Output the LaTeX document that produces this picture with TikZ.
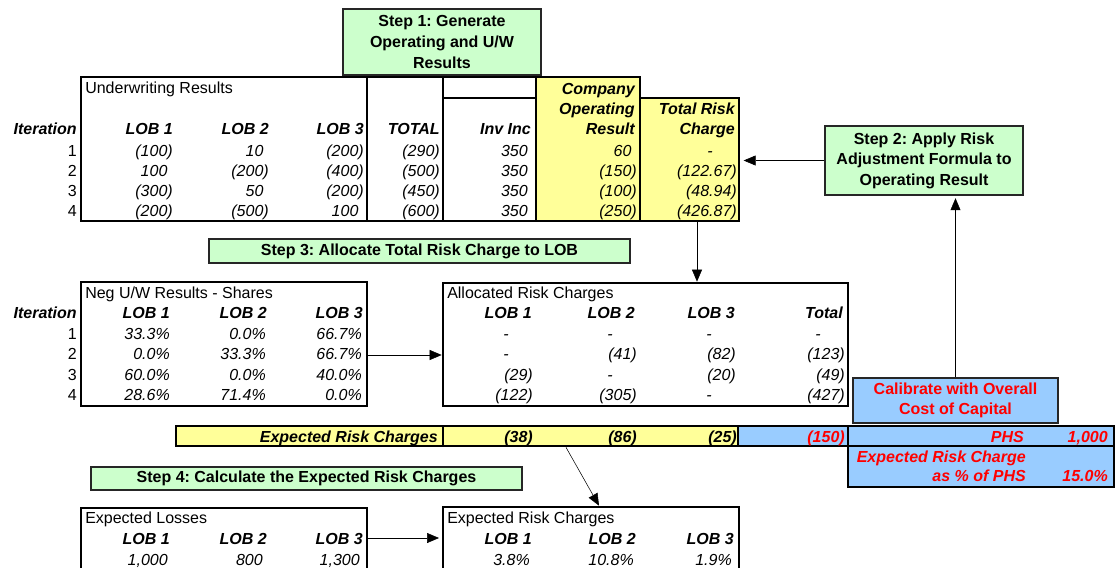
\documentclass[tikz,border=0pt]{standalone}
\usepackage{fontspec}
\setmainfont{Liberation Sans}
\usetikzlibrary{fit, calc, arrows.meta}
\frenchspacing

\definecolor{stepgreen}{HTML}{CCFFCC}
\definecolor{resyellow}{HTML}{FFFF99}
\definecolor{calblue}{HTML}{99CCFF}
\newcommand{\cellsize}{\fontsize{12}{14}\selectfont}
\newcommand{\rp}{\phantom{)}}
\newcommand{\dsh}{-\kern18pt}

\begin{document}
\begin{tikzpicture}[x=0.75pt, y=-0.75pt,
    tabframe/.style={draw, line width=2pt, inner sep=0pt},
    stepbox/.style={draw=black!85, line width=0.8pt, fill=stepgreen,
      inner sep=0pt, align=center, font=\fontsize{12}{15.4}\selectfont\bfseries},
    cellval/.style={anchor=base east, inner sep=0pt, font=\cellsize\itshape},
    cellhead/.style={anchor=base east, inner sep=0pt, font=\cellsize\bfseries\itshape},
    rownum/.style={anchor=base east, inner sep=0pt, font=\cellsize},
    tabtitle/.style={anchor=base west, inner sep=0pt, font=\cellsize},
    >={Triangle[length=9pt,width=7.5pt]}]
  \useasboundingbox (0,0) rectangle (1115,568);
  \clip (0,0) rectangle (1115,568);

  % step boxes
  \node[stepbox, minimum width=198*0.75pt, minimum height=66*0.75pt] (step1) at (442,42)
    {Step 1: Generate\\Operating and U/W\\Results};
  \node[stepbox, minimum width=198*0.75pt, minimum height=69*0.75pt] (step2) at (924,160.5)
    {Step 2: Apply Risk\\Adjustment Formula to\\Operating Result};
  \node[stepbox, minimum width=421*0.75pt, minimum height=24*0.75pt] (step3) at (419.5,251)
    {Step 3: Allocate Total Risk Charge to LOB};
  \node[stepbox, minimum width=431*0.75pt, minimum height=23*0.75pt] (step4) at (306.5,478.5)
    {Step 4: Calculate the Expected Risk Charges};
  \node[stepbox, fill=calblue, text=red, minimum width=205*0.75pt, minimum height=45*0.75pt] (calib) at (955.5,400.5)
    {Calibrate with Overall\\Cost of Capital};

  % underwriting results
  \node[tabframe, fit={(81,77) (367,221)}] (uwres) {};
  \node[tabframe, fit={(367,77) (443,221)}] (uwtot) {};
  \node[tabframe, fit={(443,77) (536,98)}] (invtop) {};
  \node[tabframe, fit={(443,98) (536,221)}] (invinc) {};
  \node[tabframe, fill=resyellow, fit={(536,77) (640,221)}] (opres) {};
  \node[tabframe, fill=resyellow, fit={(640,98) (739,221)}] (riskchg) {};

  \node[tabtitle] (uwtitle) at (85,93) {Underwriting Results};
  \node[cellhead] (uwit) at (77,134) {Iteration};
  \foreach \h/\x [count=\c] in {LOB 1/173, LOB 2/269, LOB 3/364, TOTAL/440, Inv Inc/531, Result/635, Charge/735}
    \node[cellhead] (uwh\c) at (\x,134) {\h};
  \node[cellhead] (oph1) at (635,94) {Company};
  \node[cellhead] (oph2) at (635,114) {Operating};
  \node[cellhead] (rch1) at (735,114) {Total Risk};
  \foreach \row [count=\r] in {{(100),10\rp,(200),(290),350,60\rp,\dsh},
                               {100\rp,(200),(400),(500),350,(150),(122.67)},
                               {(300),50\rp,(200),(450),350,(100),(48.94)},
                               {(200),(500),100\rp,(600),350,(250),(426.87)}} {
    \node[rownum] (uwn\r) at (77,136+20*\r) {\r};
    \foreach \v [count=\c] in \row {
      \pgfmathsetmacro{\cx}{{173,269,364,440,528,637,737}[\c-1]}
      \node[cellval] (uw\r-\c) at (\cx,136+20*\r) {\v};
    }
  }

  % negative u/w shares
  \node[tabframe, fit={(81,282) (367,406)}] (negtab) {};
  \node[tabtitle] (negtitle) at (85,298) {Neg U/W Results - Shares};
  \node[cellhead] (negit) at (77,318) {Iteration};
  \foreach \h/\x [count=\c] in {LOB 1/170, LOB 2/267, LOB 3/363}
    \node[cellhead] (negh\c) at (\x,318) {\h};
  \foreach \row [count=\r] in {{33.3\%,0.0\%,66.7\%},
                               {0.0\%,33.3\%,66.7\%},
                               {60.0\%,0.0\%,40.0\%},
                               {28.6\%,71.4\%,0.0\%}} {
    \node[rownum] (negn\r) at (77,319+20.4*\r) {\r};
    \foreach \v [count=\c] in \row {
      \pgfmathsetmacro{\cx}{{170,266,362}[\c-1]}
      \node[cellval] (neg\r-\c) at (\cx,319+20.4*\r) {\v};
    }
  }

  % allocated charges
  \node[tabframe, fit={(443,283) (848,406)}] (alloctab) {};
  \node[tabtitle] (alloctitle) at (447,298) {Allocated Risk Charges};
  \foreach \h/\x [count=\c] in {LOB 1/532, LOB 2/635, LOB 3/735, Total/843}
    \node[cellhead] (alloch\c) at (\x,318) {\h};
  \foreach \row [count=\r] in {{\dsh,\dsh,\dsh,\dsh},
                               {\dsh,(41),(82),(123)},
                               {(29),\dsh,(20),(49)},
                               {(122),(305),\dsh,(427)}} {
    \foreach \v [count=\c] in \row {
      \pgfmathsetmacro{\cx}{{533,637,736,845}[\c-1]}
      \node[cellval] (alloc\r-\c) at (\cx,319+20.4*\r) {\v};
    }
  }

  % expected risk charge bar
  \node[tabframe, fill=resyellow, fit={(176,426) (443,446)}] (barlbl) {};
  \node[tabframe, fill=resyellow, fit={(443,426) (738,446)}] (barlob) {};
  \node[tabframe, fill=calblue, fit={(738,426) (848,446)}] (bartot) {};
  \node[tabframe, fill=calblue, fit={(848,426) (1114,446)}] (barphs) {};
  \node[tabframe, fill=calblue, fit={(848,446) (1114,487)}] (barpct) {};
  \node[cellhead] (barlbltxt) at (438,442) {Expected Risk Charges};
  \foreach \v/\x [count=\c] in {(38)/533, (86)/637, (25)/737}
    \node[cellhead] (barv\c) at (\x,442) {\v};
  \node[cellhead, text=red] (bartottxt) at (845,442) {(150)};
  \node[cellhead, text=red] (phslbl) at (1024,442) {PHS};
  \node[cellhead, text=red] (phsval) at (1108,442) {1,000};
  \node[cellhead, text=red] (pctlbl1) at (1026,462) {Expected Risk Charge};
  \node[cellhead, text=red] (pctlbl2) at (1026,481) {as \% of PHS};
  \node[cellhead, text=red] (pctval) at (1108,481) {15.0\%};

  % expected losses and expected risk charges
  \node[tabframe, fit={(81,508) (367,600)}] (explos) {};
  \node[tabframe, fit={(443,507) (739,600)}] (experc) {};
  \node[tabtitle] (lostitle) at (85,523) {Expected Losses};
  \node[tabtitle] (erctitle) at (447,523) {Expected Risk Charges};
  \foreach \h/\x [count=\c] in {LOB 1/170, LOB 2/267, LOB 3/363}
    \node[cellhead] (losh\c) at (\x,544) {\h};
  \foreach \h/\x [count=\c] in {LOB 1/532, LOB 2/636, LOB 3/734}
    \node[cellhead] (erch\c) at (\x,544) {\h};
  \node[cellval] (losv1) at (168,565) {1,000};
  \node[cellval] (losv2) at (263,565) {800};
  \node[cellval] (losv3) at (360,565) {1,300};
  \node[cellval] (ercv1) at (530,565) {3.8\%};
  \node[cellval] (ercv2) at (634,565) {10.8\%};
  \node[cellval] (ercv3) at (732,565) {1.9\%};

  % connectors
  \coordinate (drop) at (697,0);
  \coordinate (shr) at (0,355);
  \coordinate (los) at (0,538);
  \coordinate (slant1) at (566,0);
  \coordinate (slant2) at (599,0);
  \draw[->, shorten >=2.5pt] (step2.west) -- (riskchg.east |- step2.west);
  \draw[->, shorten >=2pt] (calib.north) -- (calib.north |- step2.south);
  \draw[->] (riskchg.south -| drop) -- (alloctab.north -| drop);
  \draw[->] (negtab.east |- shr) -- (alloctab.west |- shr);
  \draw[->] (barlob.south -| slant1) -- (experc.north -| slant2);
  \draw[->, shorten >=2pt] (explos.east |- los) -- (experc.west |- los);
\end{tikzpicture}
\end{document}
